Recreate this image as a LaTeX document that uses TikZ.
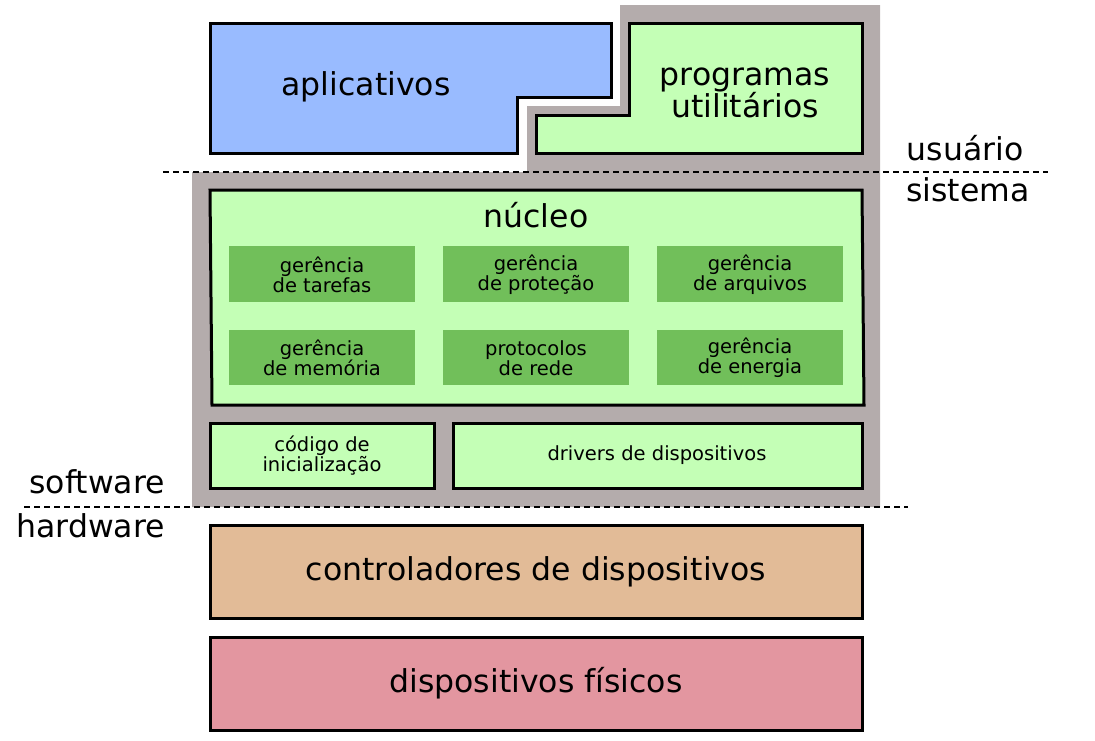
\documentclass[tikz,border=0pt]{standalone}
\usepackage{fontspec}
\setmainfont{DejaVu Sans}
\definecolor{cgray}{HTML}{B4ACAC}
\definecolor{cblue}{HTML}{99BBFF}
\definecolor{clgreen}{HTML}{C4FFB6}
\definecolor{cdgreen}{HTML}{71BF5A}
\definecolor{ctan}{HTML}{E2BB97}
\definecolor{cpink}{HTML}{E396A0}
\tikzset{
  layer/.style={draw=black, line width=3pt},
  big/.style={font=\fontsize{31.5}{31}\selectfont, align=center, inner sep=0pt},
  small/.style={font=\fontsize{19.5}{20}\selectfont, align=center, inner sep=0pt},
  sub/.style={fill=cdgreen, draw=none},
  sep/.style={dash pattern=on 6pt off 4pt, line width=1.3pt},
}
\begin{document}
\begin{tikzpicture}[x=1pt,y=-1pt]
\useasboundingbox (0,0) rectangle (1095,740);
% gray background
\fill[cgray] (620,5) -- (880,5) -- (880,507) -- (192,507) -- (192,172) -- (527,172) -- (527,106) -- (620,106) -- cycle;
% user level
\draw[layer, fill=cblue] (210,23) -- (611,23) -- (611,97) -- (517,97) -- (517,153) -- (210,153) -- cycle;
\draw[layer, fill=clgreen] (629,23) -- (862,23) -- (862,153) -- (536,153) -- (536,115) -- (629,115) -- cycle;
\node[big] (apl) at (366,87) {aplicativos};
\node[big] (util) at (745,93) {programas\\utilitários};
% separators
\draw[sep] (163,172) -- (1048,172);
\draw[sep] (24,507) -- (908,507);
\node[big] (usr) at (965,148) {usuário};
\node[big] (sis) at (968,190) {sistema};
\node[big, anchor=east] (sw) at (165,482) {software};
\node[big, anchor=east] (hw) at (165,526) {hardware};
% kernel
\draw[layer, fill=clgreen] (210,190) -- (862,190) -- (864,405) -- (212,405) -- cycle;
\node[big] (nuc) at (536,215) {núcleo};
\fill[sub] (229,246) rectangle (415,302);
\fill[sub] (443,246) rectangle (629,302);
\fill[sub] (657,246) rectangle (843,302);
\fill[sub] (229,330) rectangle (415,385);
\fill[sub] (443,330) rectangle (629,385);
\fill[sub] (657,330) rectangle (843,385);
\node[small] (g1) at (322,275) {gerência\\de tarefas};
\node[small] (g2) at (536,275) {gerência\\de proteção};
\node[small] (g3) at (750,275) {gerência\\de arquivos};
\node[small] (g4) at (322,358) {gerência\\de memória};
\node[small] (g5) at (536,358) {protocolos\\de rede};
\node[small] (g6) at (750,358) {gerência\\de energia};
% boot and drivers
\draw[layer, fill=clgreen] (210,423) rectangle (434,488);
\draw[layer, fill=clgreen] (453,423) rectangle (862,488);
\node[small] (boot) at (322,456) {código de\\inicialização};
\node[small] (drv) at (657,455) {drivers de dispositivos};
% hardware
\draw[layer, fill=ctan] (210,525) rectangle (862,618);
\draw[layer, fill=cpink] (210,637) rectangle (862,730);
\node[big] (ctrl) at (536,572) {controladores de dispositivos};
\node[big] (dev) at (536,683) {dispositivos físicos};
\end{tikzpicture}
\end{document}
